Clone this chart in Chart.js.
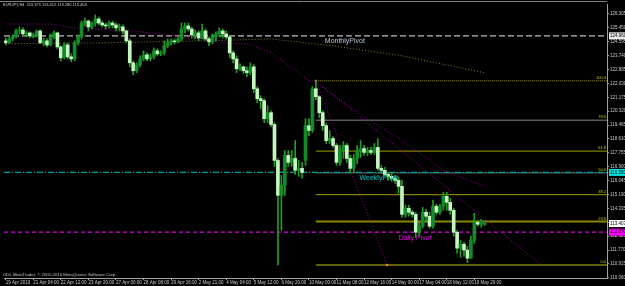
<!DOCTYPE html>
<html lang="en">
<head>
<meta charset="UTF-8">
<title>EURJPY,H4</title>
<script src="https://cdn.jsdelivr.net/npm/chart.js"></script>
<style>
    html, body { margin: 0; padding: 0; background: #000; }
    #wrap { width: 625px; height: 286px; }
</style>
</head>
<body>
<div id="wrap"><canvas id="chart"></canvas></div>
<script>
// time axis labels, one every 8 bars
const timeLabels = ['19 Apr 2010', '21 Apr 04:00', '22 Apr 12:00', '23 Apr 20:00', '27 Apr 00:00', '28 Apr 08:00',
    '29 Apr 16:00', '2 May 21:00', '4 May 04:00', '5 May 12:00', '6 May 20:00', '10 May 00:00', '11 May 08:00',
    '12 May 16:00', '14 May 00:00', '17 May 04:00', '18 May 12:00', '19 May 20:00'];
const priceTicks = [126.305, 125.450, 124.595, 123.740, 122.885, 122.030, 121.175, 120.320, 119.465, 118.610,
    117.755, 116.900, 116.045, 115.190, 114.335, 113.480, 112.625, 111.770, 110.915, 110.060];

// H4 candles
const opens = [124.65,124.53,124.77,124.89,125.26,125.32,125.08,125.14,124.96,125.02,
    125.26,124.53,124.65,124.40,124.89,125.14,124.28,123.61,124.40,123.67,
    123.54,124.53,124.89,125.75,125.87,125.51,125.75,126.00,125.75,125.63,
    125.57,125.75,125.63,125.45,125.51,125.26,124.65,123.30,122.81,123.18,
    123.54,123.79,123.54,123.67,124.04,123.85,123.91,124.34,124.53,124.65,
    124.59,124.77,125.38,125.57,125.38,125.02,125.14,124.83,125.26,124.77,
    124.59,124.89,125.08,125.26,125.08,124.89,123.91,123.54,122.93,123.05,
    122.81,122.69,123.05,121.70,121.09,120.97,119.86,120.23,119.50,117.29,
    115.14,115.76,117.60,117.17,117.41,116.68,116.80,117.29,119.43,119.13,
    121.70,121.21,120.23,119.43,118.51,118.64,118.21,117.17,117.90,118.21,
    117.41,116.80,117.41,117.90,118.02,117.78,117.90,117.78,118.09,116.80,
    116.68,116.43,116.31,116.19,116.06,115.69,113.97,114.34,114.10,113.97,
    112.87,113.24,114.10,113.85,113.24,114.47,114.10,114.47,115.08,114.71,
    114.22,112.87,111.89,112.13,111.77,111.27,112.38,113.48,113.36,113.375];
const highs = [124.83,124.89,125.02,125.38,125.51,125.45,125.26,125.20,125.14,125.32,
    125.32,124.83,124.77,125.08,125.26,125.20,124.34,124.53,124.53,123.85,
    124.65,125.02,125.87,126.06,125.94,125.81,126.24,126.12,125.87,125.75,
    125.87,125.87,125.75,125.69,125.63,125.32,124.77,123.42,123.30,123.73,
    124.04,123.91,123.85,124.22,124.16,124.04,124.65,124.77,124.77,124.77,
    124.89,125.75,125.75,125.75,125.51,125.32,125.26,125.69,125.38,124.89,
    125.08,125.20,125.45,125.38,125.26,124.96,124.04,123.73,123.24,123.11,
    123.05,123.30,123.18,121.83,121.28,121.09,120.66,120.35,119.62,117.41,
    116.37,117.90,117.90,117.90,118.51,117.29,117.17,119.86,119.86,121.83,
    122.19,121.28,120.35,119.56,119.13,118.76,118.33,118.21,118.45,118.33,
    117.60,117.66,118.21,118.51,118.21,118.09,118.09,118.33,118.64,116.98,
    116.86,116.55,116.49,116.37,116.25,116.06,114.53,114.53,114.22,114.10,
    113.48,114.40,114.28,114.10,114.84,114.59,114.59,115.33,115.33,114.96,
    114.34,112.99,112.38,112.25,112.01,112.62,114.04,113.61,113.67,113.412];
const lows = [124.40,124.47,124.65,124.83,125.08,124.96,124.96,124.83,124.83,124.89,
    124.47,124.34,124.28,124.34,124.77,124.16,123.42,123.54,123.54,123.36,
    123.42,124.40,124.77,125.57,125.26,125.38,125.57,125.63,125.51,125.38,
    125.45,125.45,125.26,125.26,125.08,124.53,123.05,122.56,122.69,123.05,
    123.42,123.42,123.42,123.54,123.73,123.73,123.79,124.22,124.40,124.47,
    124.53,124.65,125.14,125.26,124.83,124.77,124.65,124.77,124.65,124.34,
    124.47,124.65,124.89,124.83,124.77,123.61,123.30,122.69,122.81,122.63,
    122.44,122.56,121.46,120.84,120.48,119.62,119.62,119.37,116.92,110.85,
    112.99,115.14,116.92,116.92,116.43,116.31,116.19,116.98,118.82,119.01,
    121.03,119.92,119.13,118.33,118.33,118.09,116.98,116.98,117.41,117.17,
    116.55,116.55,117.10,117.47,117.60,117.60,117.66,117.66,116.68,116.49,
    116.31,116.06,116.00,115.88,115.26,113.79,113.79,113.85,113.79,112.56,
    112.62,113.12,113.48,113.12,113.12,113.97,113.97,114.22,114.22,113.97,
    112.62,111.58,111.33,111.40,111.00,111.27,112.19,113.24,113.18,113.280];
const closes = [124.53,124.77,124.89,125.26,125.32,125.08,125.14,124.96,125.02,125.26,
    124.53,124.65,124.40,124.89,125.14,124.28,123.61,124.40,123.67,123.54,
    124.53,124.89,125.75,125.87,125.51,125.75,126.00,125.75,125.63,125.57,
    125.75,125.63,125.45,125.51,125.26,124.65,123.30,122.81,123.18,123.54,
    123.79,123.54,123.67,124.04,123.85,123.91,124.34,124.53,124.65,124.59,
    124.77,125.38,125.57,125.38,125.02,125.14,124.83,125.26,124.77,124.59,
    124.89,125.08,125.26,125.08,124.89,123.91,123.54,122.93,123.05,122.81,
    122.69,123.05,121.70,121.09,120.97,119.86,120.23,119.50,117.29,115.14,
    115.76,117.60,117.17,117.41,116.68,116.80,116.55,119.43,119.13,121.70,
    121.21,120.23,119.43,118.51,118.64,118.21,117.17,117.90,118.21,117.41,
    116.80,117.41,117.90,118.02,117.78,117.90,117.78,118.09,116.80,116.68,
    116.43,116.31,116.19,116.06,115.69,113.97,114.34,114.10,113.97,112.87,
    113.24,114.10,113.85,113.24,114.47,114.10,114.47,115.08,114.71,114.22,
    112.87,111.89,112.13,111.77,111.27,112.38,113.48,113.36,113.54,113.403];

// moving averages (bar index / price)
const maFastBars = [0, 13, 20, 37, 57, 63, 70, 77, 82, 88, 90, 103, 115, 127, 139];
const maFastVals = [125.69, 125.69, 125.45, 125.26, 124.77, 124.53, 124.47, 123.91, 123.18, 122.19, 122.07, 120.11, 118.51, 116.68, 115.69];
const maSlowBars = [0, 28, 57, 77, 95, 115, 139];
const maSlowVals = [124.47, 124.53, 124.65, 124.77, 124.34, 123.73, 122.69];

// pivots
const pivotNames = ['MonthlyPivot', 'WeeklyPivot', 'Daily Pivot'];
const pivotValues = [124.96, 116.55, 112.87];
const lastPrice = 113.403;

// fibonacci retracement and trend lines
const fibHigh = 122.19;
const fibLow = 110.85;
const fibStartBar = 90;
const fibEndBar = 110.7;
const fibLevels = [0, 23.6, 38.2, 50, 61.8, 78.6, 100];
const trendBars = [90, 155.4];
const trendVals = [122.19, 110.85];

const LAST_SLOT = 174.5;
const bars = closes.map((c, i) => i);

const fibColors = { 0: '#7f7f00', 23.6: '#8a8a00', 38.2: '#7f7f00', 50: '#5a5a5a', 61.8: '#7f7f00', 78.6: '#5a5a5a', 100: '#7f7f00' };
const pivotStyles = [
    { color: '#bdbdbd', dash: [6, 3], caption: '#b8c6d8', tag: '#e8e8e8', at: 92.6 },
    { color: '#00a0a0', dash: [6, 2, 1, 2], caption: '#00c8c8', tag: '#00e0e0', at: 102.7 },
    { color: '#e000e0', dash: [4, 3], caption: '#e000e0', tag: '#ff00ff', at: 114 }
];

function flatLine(value, from, to) {
    return [{ x: from, y: value }, { x: to, y: value }];
}

const datasets = [];
datasets.push({
    type: 'bar',
    data: bars.map(i => ({ x: i, y: [opens[i], closes[i]] })),
    backgroundColor: bars.map(i => closes[i] >= opens[i] ? '#138a2b' : '#c6f6c0'),
    barThickness: 3,
    minBarLength: 1,
    grouped: false
});
datasets.push({
    type: 'bar',
    data: bars.map(i => ({ x: i, y: [lows[i], highs[i]] })),
    backgroundColor: '#20a020',
    barThickness: 1,
    grouped: false
});
datasets.push({
    type: 'scatter',
    data: [{ x: fibStartBar, y: fibHigh }, { x: fibEndBar, y: fibLow }],
    pointStyle: 'rect',
    pointRadius: 1.5,
    backgroundColor: '#ff7f27',
    borderWidth: 0
});
datasets.push({
    type: 'line',
    data: [{ x: fibStartBar, y: fibHigh }, { x: fibEndBar, y: fibLow }],
    borderColor: '#a000a0', borderWidth: 1, borderDash: [1, 2], pointRadius: 0
});
datasets.push({
    type: 'line',
    data: trendBars.map((b, k) => ({ x: b, y: trendVals[k] })),
    borderColor: '#a000a0', borderWidth: 1, borderDash: [1, 2], pointRadius: 0
});
datasets.push({
    type: 'line',
    data: maFastBars.map((b, k) => ({ x: b, y: maFastVals[k] })),
    borderColor: '#9a009a', borderWidth: 1, borderDash: [1, 2], pointRadius: 0
});
datasets.push({
    type: 'line',
    data: maSlowBars.map((b, k) => ({ x: b, y: maSlowVals[k] })),
    borderColor: '#8a7a30', borderWidth: 1, borderDash: [1, 2], pointRadius: 0
});
pivotValues.forEach((v, k) => {
    datasets.push({
        type: 'line',
        data: flatLine(v, -0.5, LAST_SLOT),
        borderColor: pivotStyles[k].color, borderWidth: 1.3, borderDash: pivotStyles[k].dash, pointRadius: 0
    });
});
fibLevels.forEach(lv => {
    datasets.push({
        type: 'line',
        data: flatLine(fibLow + (fibHigh - fibLow) * lv / 100, fibStartBar, LAST_SLOT),
        borderColor: fibColors[lv],
        borderWidth: lv === 23.6 ? 2 : 1.3,
        borderDash: lv === 100 ? [1, 1] : [],
        pointRadius: 0
    });
});

const overlay = {
    id: 'overlay',
    afterDraw(chart) {
        const { ctx, chartArea: area, scales: { x, y } } = chart;
        ctx.save();
        ctx.strokeStyle = '#808080';
        ctx.lineWidth = 1;
        ctx.beginPath();
        ctx.moveTo(0, 1.5);
        ctx.lineTo(area.right, 1.5);
        ctx.stroke();

        // fibo captions
        ctx.font = '4px "Liberation Sans"';
        ctx.fillStyle = '#c8c800';
        ctx.textAlign = 'right';
        ctx.textBaseline = 'bottom';
        fibLevels.forEach(lv => {
            const py = y.getPixelForValue(fibLow + (fibHigh - fibLow) * lv / 100);
            ctx.fillText(lv.toFixed(1), area.right - 1, py - 1);
        });

        // pivot captions
        ctx.font = '7px "Liberation Sans"';
        ctx.textAlign = 'left';
        ctx.textBaseline = 'top';
        pivotNames.forEach((name, k) => {
            ctx.fillStyle = pivotStyles[k].caption;
            ctx.fillText(name, x.getPixelForValue(pivotStyles[k].at), y.getPixelForValue(pivotValues[k]) + 2);
        });

        // price tags on the right axis
        const tags = pivotValues.map((v, k) => ({ v: v, bg: pivotStyles[k].tag }));
        tags.push({ v: lastPrice, bg: '#ffffff' });
        ctx.font = '4.5px "Liberation Sans"';
        ctx.textBaseline = 'middle';
        tags.forEach(t => {
            const py = y.getPixelForValue(t.v);
            ctx.fillStyle = t.bg;
            ctx.fillRect(area.right + 2, py - 3.5, 625 - area.right - 2, 7);
            ctx.fillStyle = '#000';
            ctx.fillText(t.v.toFixed(3), area.right + 3, py);
        });

        // header and footer
        ctx.fillStyle = '#d0d0d0';
        ctx.font = '4px "Liberation Sans"';
        ctx.textBaseline = 'top';
        ctx.fillText('EURJPY,H4  113.375 113.412 113.280 113.403', 3, 3);
        ctx.fillStyle = '#c0c0c0';
        ctx.font = '4.3px "Liberation Sans"';
        ctx.textBaseline = 'bottom';
        ctx.fillText('ODL MetaTrader, \u00a9 2001-2010 MetaQuotes Software Corp.', 3, area.bottom - 1);
        ctx.restore();
    }
};

Chart.defaults.font.family = '"Liberation Sans", Arial, sans-serif';

new Chart(document.getElementById('chart'), {
    type: 'bar',
    data: { datasets: datasets },
    plugins: [overlay],
    options: {
        responsive: true,
        maintainAspectRatio: false,
        animation: false,
        layout: { padding: 0 },
        plugins: { legend: { display: false }, tooltip: { enabled: false } },
        scales: {
            x: {
                type: 'linear',
                min: -0.5,
                max: LAST_SLOT,
                offset: false,
                afterFit(s) { s.height = 8; },
                afterBuildTicks(s) { s.ticks = timeLabels.map((t, k) => ({ value: k * 8 })); },
                ticks: {
                    align: 'start',
                    maxRotation: 0,
                    autoSkip: false,
                    padding: 0,
                    color: '#c8c8c8',
                    font: { size: 4.5 },
                    callback: (v, idx) => timeLabels[idx]
                },
                grid: { drawOnChartArea: false, offset: false, tickLength: 2, color: '#a0a0a0' },
                border: { color: '#a0a0a0' }
            },
            y: {
                position: 'right',
                min: 110.05,
                max: 126.92,
                beginAtZero: false,
                afterFit(s) { s.width = 18; },
                afterBuildTicks(s) { s.ticks = priceTicks.map(v => ({ value: v })); },
                ticks: {
                    padding: 1,
                    color: '#c8c8c8',
                    font: { size: 4.5 },
                    callback: v => v.toFixed(3)
                },
                grid: { drawOnChartArea: false, tickLength: 2, color: '#a0a0a0' },
                border: { color: '#a0a0a0' }
            }
        }
    }
});
</script>
</body>
</html>
